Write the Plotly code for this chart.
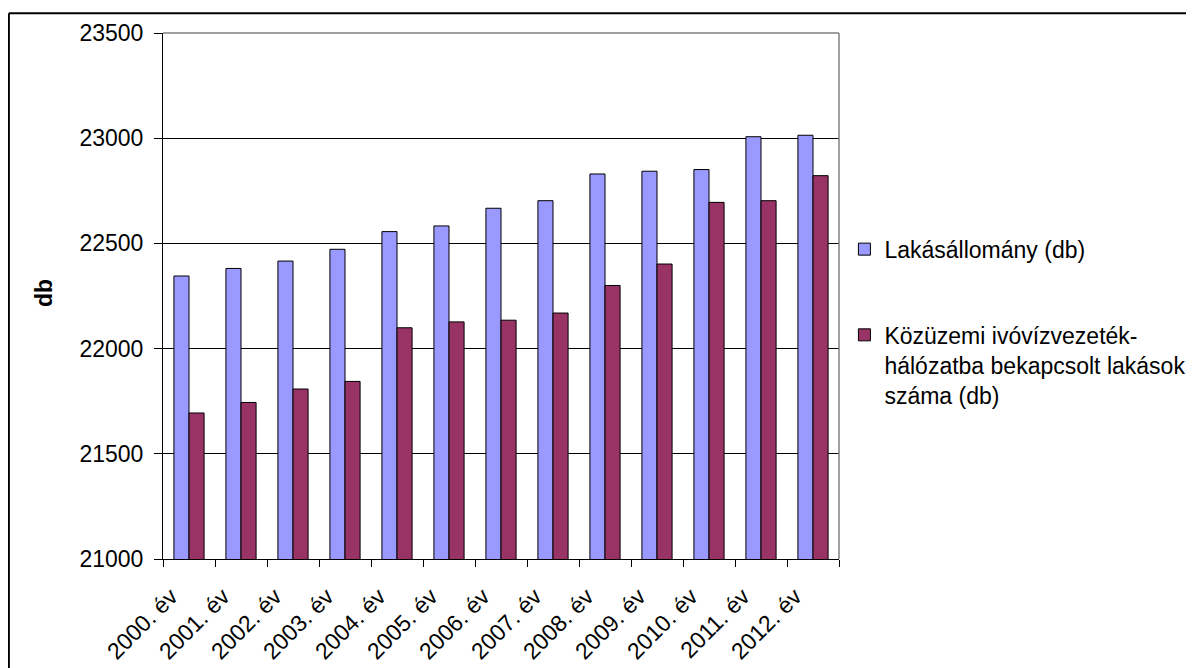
import plotly.graph_objects as go

# adatok (leolvasva)
evek = ['2000. év', '2001. év', '2002. év', '2003. év', '2004. év', '2005. év',
        '2006. év', '2007. év', '2008. év', '2009. év', '2010. év', '2011. év', '2012. év']
lakasallomany = [22345, 22381, 22416, 22472, 22556, 22583, 22667, 22703,
                 22830, 22843, 22851, 23007, 23014]
bekapcsolt = [21694, 21744, 21808, 21844, 22099, 22127, 22135, 22169,
              22300, 22402, 22695, 22703, 22822]

nev1 = 'Lakásállomány (db)'
nev2 = 'Közüzemi ivóvízvezeték-<br>hálózatba bekapcsolt lakások<br>száma (db)'

FONT = 'Arial, Liberation Sans, sans-serif'

fig = go.Figure()
fig.add_trace(go.Bar(
    x=evek, y=lakasallomany, name=nev1, legend='legend',
    marker=dict(color='#9999FF', line=dict(color='black', width=1)),
))
fig.add_trace(go.Bar(
    x=evek, y=bekapcsolt, name=nev2, legend='legend2',
    marker=dict(color='#993366', line=dict(color='black', width=1)),
))

# a body 8px-es margoja miatt eltolva: plot terulet a figuran 155..831 x 21..554 px
fig.update_layout(
    width=1194, height=668,
    margin=dict(l=155, r=363, t=21, b=114),
    paper_bgcolor='white', plot_bgcolor='white',
    barmode='group', bargap=0.42, bargroupgap=0,
    font=dict(family=FONT, size=23, color='black'),
    legend=dict(x=1.008, xanchor='left', y=0.589, yanchor='middle',
                font=dict(size=23), bgcolor='rgba(0,0,0,0)'),
    legend2=dict(x=1.008, xanchor='left', y=0.369, yanchor='middle',
                 valign='top', font=dict(size=23), bgcolor='rgba(0,0,0,0)'),
    showlegend=True,
)

fig.update_xaxes(
    type='category', tickangle=-45, tickson='boundaries',
    ticks='outside', ticklen=7, tickcolor='black', tickwidth=1,
    showline=True, linecolor='black', linewidth=1,
    showgrid=False, tickfont=dict(size=23),
    ticklabelshift=-18, ticklabelstandoff=14,
)
fig.update_yaxes(
    range=[21000, 23500], dtick=500, tickformat='d',
    ticks='outside', ticklen=8, tickcolor='black', tickwidth=1,
    showline=True, linecolor='black', linewidth=1,
    showgrid=True, gridcolor='black', gridwidth=1,
    tickfont=dict(size=23), ticklabelstandoff=6,
)

# y tengely cim
fig.add_annotation(text='<b>db</b>', textangle=-90, x=-0.175, y=0.505,
                   xref='paper', yref='paper', xanchor='center', yanchor='middle',
                   showarrow=False, font=dict(size=23, family=FONT))

# szurke keret (felso, jobb) es kulso keret
fig.add_shape(type='line', xref='paper', yref='paper', x0=0, x1=1, y0=1, y1=1,
              line=dict(color='#808080', width=1.5), layer='above')
fig.add_shape(type='line', xref='paper', yref='paper', x0=1, x1=1, y0=0, y1=1,
              line=dict(color='#808080', width=1.5), layer='above')
fig.add_shape(type='line', xref='paper', yref='paper', x0=-0.228, x1=1.6, y0=1.0375, y1=1.0375,
              line=dict(color='black', width=2))
fig.add_shape(type='line', xref='paper', yref='paper', x0=-0.228, x1=-0.228, y0=-0.3, y1=1.0375,
              line=dict(color='black', width=2))

fig.write_html('out.html')
